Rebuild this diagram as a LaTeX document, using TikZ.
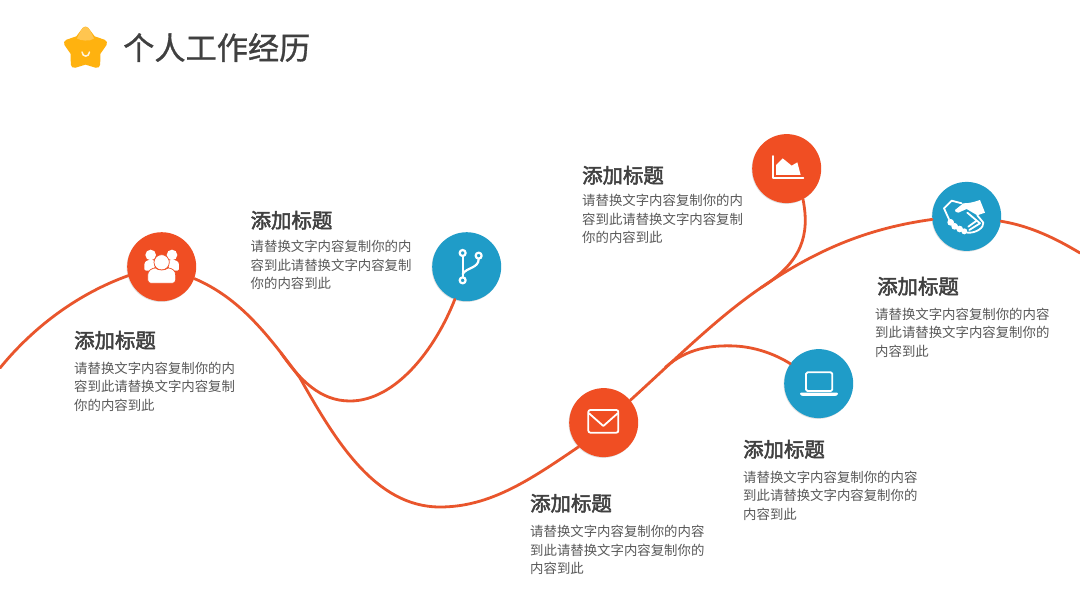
\documentclass[tikz,border=0pt]{standalone}
\usepackage{fontspec}
\setmainfont{Noto Sans CJK SC}
\newfontfamily\headfont{Noto Sans CJK SC}[FakeBold=2.4]
\newfontfamily\titlefont{Noto Sans CJK SC}[FakeBold=0.9]
\definecolor{orangeC}{HTML}{F04E23}
\definecolor{blueC}{HTML}{1F9CC8}
\definecolor{lineC}{HTML}{E9552C}
\definecolor{headC}{HTML}{404040}
\definecolor{bodyC}{HTML}{595959}
\definecolor{starC}{HTML}{FFB20F}
\definecolor{starL}{HTML}{FFC550}
\tikzset{
  dot/.style={circle,minimum size=69pt,inner sep=0pt,preaction={fill=black!35,fill opacity=.35,transform canvas={xshift=-.6pt,yshift=-.8pt}}},
  hotdot/.style={dot,fill=orangeC},
  colddot/.style={dot,fill=blueC},
  road/.style={draw=lineC,line width=2.8pt,line cap=round},
  heading/.style={anchor=base west,inner sep=0pt,text=headC,font=\headfont\fontsize{20.4}{24}\selectfont},
  para/.style={anchor=north west,inner sep=0pt,text=bodyC,align=left,font=\fontsize{13.4}{18.6}\selectfont},
  ttl/.style={anchor=base west,inner sep=0pt,text=headC,font=\titlefont\fontsize{31.2}{36}\selectfont},
  iconline/.style={draw=white,line width=1.8pt,line join=round,line cap=round},
  iconfill/.style={fill=white},
  icon/.style={x=.3333pt,y=-.3333pt}
}
\begin{document}
\begin{tikzpicture}[x=1pt,y=-1pt]
\useasboundingbox (0,0) rectangle (1080,608);
\fill[white] (0,0) rectangle (1080,608);

% nodes of the road
\node[hotdot] (n1) at (161.7,266.7) {};
\node[colddot] (n2) at (466.7,266.7) {};
\node[hotdot] (n3) at (786.7,168.6) {};
\node[colddot] (n4) at (966.7,216.4) {};
\node[colddot] (n5) at (818.7,383.6) {};
\node[hotdot] (n6) at (603.7,422.6) {};

\coordinate (startA) at (0,368);
\coordinate (endA) at (1080,253);
\coordinate (startB) at (281,353);
\coordinate (endC) at (761,287.7);
\coordinate (startD) at (665.2,367.5);

% road
\draw[road] (startA) .. controls (35,325) and (80,293) .. (n1.195);
\draw[road] (n1.-20) .. controls (240,298) and (268,335) .. (300,378)
  .. controls (335,440) and (375,507) .. (440,507)
  .. controls (490,507) and (530,480) .. (n6.224);
\draw[road] (n6.40) .. controls (680,355) and (720,315) .. (765,285)
  .. controls (820,248) and (870,228) .. (n4.185);
\draw[road] (n4.-8) .. controls (1030,226) and (1055,238) .. (endA);
\draw[road] (startB) .. controls (300,380) and (320,401) .. (350,401)
  .. controls (395,401) and (435,350) .. (n2.-110);
\draw[road] (n3.-62) .. controls (810,235) and (802,262) .. (endC);
\draw[road] (startD) .. controls (687,348) and (712,345) .. (735,346)
  .. controls (755,347) and (775,354) .. (n5.145);

% star
\fill[starC,draw=starC,line width=7pt,line join=round]
  (85.5,30) -- (92.55,39.3) -- (103.6,43.1) -- (96.9,52.7) -- (96.7,64.4)
  -- (85.5,61) -- (74.3,64.4) -- (74.1,52.7) -- (67.4,43.1) -- (78.45,39.3) -- cycle;
\fill[starL] (85.5,27) .. controls (81.5,27) and (80,33) .. (77,38.5)
  .. controls (80,40.5) and (90,42) .. (94,38.5) .. controls (91,33) and (89.5,27) .. (85.5,27) -- cycle;
\draw[white!85!starC,line width=1.5pt,line cap=round] (82,52) .. controls (82.5,57.5) and (89,57.5) .. (89.5,52);

% title
\node[ttl] (title) at (123,59.5) {个人工作经历};

% texts
\node[heading] (h1) at (74,348) {添加标题};
\node[para] (p1) at (74,361.5) {请替换文字内容复制你的内\\容到此请替换文字内容复制\\你的内容到此};
\node[heading] (h2) at (250.5,228) {添加标题};
\node[para] (p2) at (250.5,240) {请替换文字内容复制你的内\\容到此请替换文字内容复制\\你的内容到此};
\node[heading] (h3) at (582,183) {添加标题};
\node[para] (p3) at (582,194) {请替换文字内容复制你的内\\容到此请替换文字内容复制\\你的内容到此};
\node[heading] (h4) at (877,294) {添加标题};
\node[para] (p4) at (875,307.5) {请替换文字内容复制你的内容\\到此请替换文字内容复制你的\\内容到此};
\node[heading] (h5) at (743,457) {添加标题};
\node[para] (p5) at (743,470.5) {请替换文字内容复制你的内容\\到此请替换文字内容复制你的\\内容到此};
\node[heading] (h6) at (530,511) {添加标题};
\node[para] (p6) at (530,525) {请替换文字内容复制你的内容\\到此请替换文字内容复制你的\\内容到此};

% icon: people
\begin{scope}[shift={(110,220)},icon]
  \fill[iconfill] (122,105) circle (16);
  \fill[iconfill] (186,105) circle (16);
  \fill[iconfill] (103,148) -- (103,135) .. controls (103,124) and (112,120) .. (122,120) -- (140,122) -- (130,152) -- (108,152) .. controls (105,152) and (103,151) .. (103,148) -- cycle;
  \fill[iconfill] (207,148) -- (207,135) .. controls (207,124) and (198,120) .. (188,120) -- (170,122) -- (180,152) -- (202,152) .. controls (205,152) and (207,151) .. (207,148) -- cycle;
  \fill[iconfill,draw=orangeC,line width=.7pt] (155,127) circle (23);
  \fill[iconfill,draw=orangeC,line width=.7pt] (113,180) -- (113,165) .. controls (113,152) and (126,144) .. (136,144) .. controls (146,152) and (164,152) .. (174,144) .. controls (186,144) and (197,152) .. (197,165) -- (197,180) .. controls (197,186) and (192,190) .. (187,190) -- (123,190) .. controls (118,190) and (113,186) .. (113,180) -- cycle;
\end{scope}

% icon: branch
\begin{scope}[shift={(420,220)},icon]
  \draw[iconline,line width=2.2pt] (128,99) circle (9);
  \draw[iconline,line width=2.2pt] (176,107) circle (9);
  \draw[iconline,line width=2.2pt] (128,181) circle (9);
  \draw[iconline,line width=2.2pt] (128,109) -- (128,171);
  \draw[iconline,line width=2.2pt] (176,117) .. controls (176,145) and (140,142) .. (128,162);
\end{scope}

% icon: chart
\begin{scope}[shift={(740,125)},icon]
  \draw[iconline] (98,93) -- (98,158) -- (190,158);
  \fill[iconfill] (108,150) -- (108,120) -- (128,100) -- (155,122) -- (172,112) -- (182,150) -- cycle;
\end{scope}

% icon: handshake
\begin{scope}[shift={(920,170)},icon]
  \fill[iconfill] (105,120) -- (130,100) .. controls (150,100) and (165,95) .. (180,90) -- (195,128) -- (172,136) -- (140,117) -- (115,128) .. controls (108,128) and (104,124) .. (105,120) -- cycle;
  \draw[iconline] (72,115) -- (95,92) -- (125,100);
  \draw[iconline] (72,115) -- (87,148);
  \draw[iconline] (172,136) -- (190,158) .. controls (192,172) and (170,190) .. (142,188);
  \draw[iconline] (142,128) -- (180,160);
  \fill[iconfill] (92,157) circle (10) (104,169) circle (10) (119,177) circle (10) (133,184) circle (9);
  \draw[iconline] (148,180) -- (180,160);
  \draw[iconline] (145,170) -- (170,152);
\end{scope}

% icon: laptop
\begin{scope}[shift={(770,340)},icon]
  \draw[iconline,rounded corners=1.5pt] (108,97) rectangle (187,153);
  \fill[iconfill,rounded corners=1pt] (90,158) -- (204,158) -- (204,164) -- (197,168) -- (97,168) -- (90,164) -- cycle;
\end{scope}

% icon: envelope
\begin{scope}[shift={(555,380)},icon]
  \draw[iconline,rounded corners=2pt] (100,90) rectangle (190,158);
  \draw[iconline] (102,100) -- (145,138) -- (188,100);
\end{scope}
\end{tikzpicture}
\end{document}
